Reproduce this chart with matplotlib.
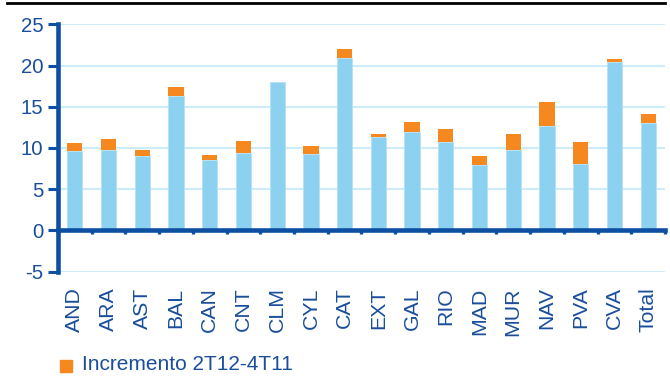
import matplotlib.pyplot as plt
from matplotlib.lines import Line2D
from matplotlib.patches import Rectangle
import numpy as np

regions = ['AND', 'ARA', 'AST', 'BAL', 'CAN', 'CNT', 'CLM', 'CYL', 'CAT',
           'EXT', 'GAL', 'RIO', 'MAD', 'MUR', 'NAV', 'PVA', 'CVA', 'Total']
base = [9.6, 9.75, 9.05, 16.3, 8.6, 9.45, 18.05, 9.25, 20.9,
        11.35, 11.9, 10.7, 7.9, 9.75, 12.7, 8.05, 20.45, 13.0]
incremento = [1.05, 1.3, 0.7, 1.15, 0.6, 1.4, 0.0, 0.95, 1.05,
              0.35, 1.3, 1.65, 1.15, 1.9, 2.85, 2.65, 0.3, 1.15]
yticks = [-5, 0, 5, 10, 15, 20, 25]
legend_label = 'Incremento 2T12-4T11'

axis_blue = '#0D4FA3'
text_blue = '#1A4E9C'
bar_blue = '#8DD1F1'
bar_orange = '#F5891F'
grid_blue = '#CDEBF8'

plt.rcParams['font.family'] = ['Liberation Sans', 'DejaVu Sans']
plt.rcParams['axes.unicode_minus'] = False

fig = plt.figure(figsize=(6.7, 3.76), dpi=100)
ax = fig.add_axes([0.0866, 0.2774, 0.9059, 0.658])

x = np.arange(len(regions))
ax.bar(x, base, width=0.45, color=bar_blue, edgecolor='#B5E2F6', linewidth=0.6, zorder=2)
ax.bar(x, incremento, bottom=base, width=0.45, color=bar_orange,
       linewidth=0, zorder=2)

ax.set_xlim(-0.5, len(regions) - 0.5)
ax.set_ylim(-5, 25)
ax.set_yticks(yticks)
ax.yaxis.grid(True, color=grid_blue, linewidth=1.5, zorder=0)
ax.set_axisbelow(True)

for s in ['top', 'right']:
    ax.spines[s].set_visible(False)
ax.spines['left'].set_color(axis_blue)
ax.spines['left'].set_linewidth(3.3)
ax.spines['bottom'].set_position(('data', 0))
ax.spines['bottom'].set_color(axis_blue)
ax.spines['bottom'].set_linewidth(3.3)
ax.spines['bottom'].set_zorder(3)

ax.tick_params(axis='y', colors=axis_blue, labelcolor=text_blue, length=7,
               width=2.2, pad=3.5, labelsize=14.7)
ax.set_xticks(x)
ax.set_xticklabels(regions, rotation=90, va='top', ha='center')
ax.set_xticks(np.arange(-0.5, len(regions)), minor=True)
ax.tick_params(axis='x', which='major', length=0, pad=41, labelsize=15.3,
               labelcolor=text_blue)
ax.tick_params(axis='x', which='minor', length=3, width=2.4, direction='out',
               color=axis_blue)

# black rule at the top (title is cut off)
fig.add_artist(Line2D([7 / 670, 665 / 670], [1 - 3 / 376, 1 - 3 / 376],
                      color='black', linewidth=2))

# legend
fig.add_artist(Rectangle((60 / 670, 1 - 372 / 376), 12 / 670, 12 / 376,
                         transform=fig.transFigure, color=bar_orange))
fig.text(82 / 670, 1 - 365 / 376, legend_label, fontsize=15, color=text_blue,
         va='center', ha='left')

fig.savefig('out.png', dpi=100)
